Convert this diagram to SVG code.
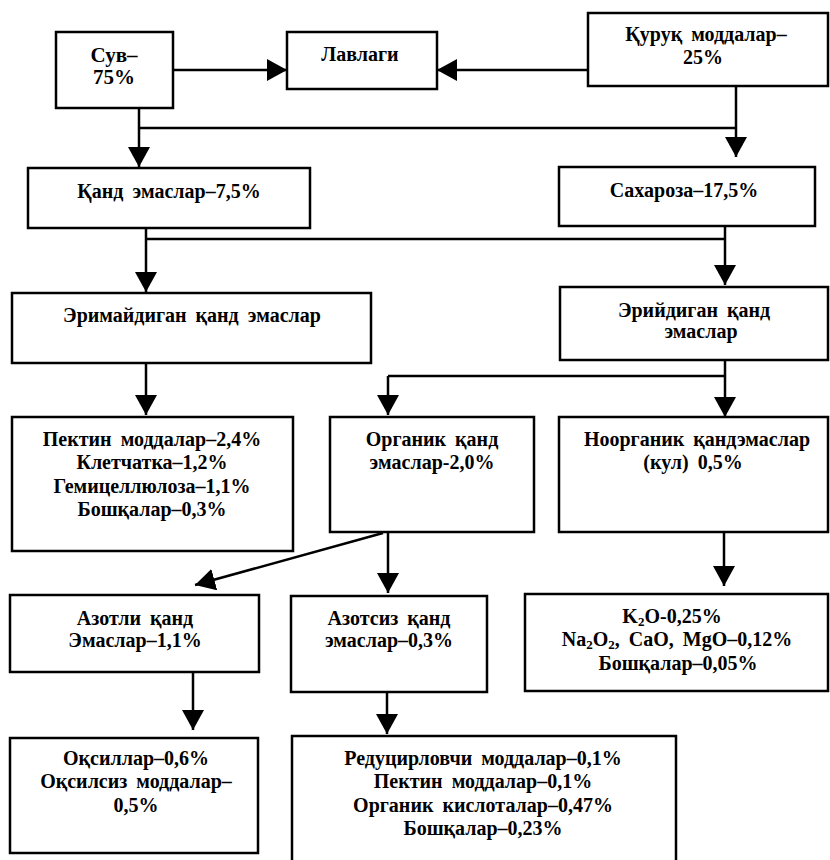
<svg xmlns="http://www.w3.org/2000/svg" width="830" height="860" viewBox="0 0 830 860">
<style>
.box{fill:#fff;stroke:#000;stroke-width:2.5}
.t{font-family:"Liberation Serif","Times New Roman",serif;font-weight:bold;font-size:20px;word-spacing:4px;fill:#000;text-anchor:middle}
.big{font-size:21px}
.c{fill:none;stroke:#000;stroke-width:2.5}
</style>
<defs>
<marker id="ah" markerUnits="userSpaceOnUse" viewBox="0 0 20 22" markerWidth="20" markerHeight="22" refX="20" refY="11" orient="auto">
<path d="M0,0 L20,11 L0,22 Z" fill="#000"/>
</marker>
</defs>
<rect width="830" height="860" fill="#fff"/>
<g id="connectors">
<path class="c" d="M173,70 H287" marker-end="url(#ah)"/>
<path class="c" d="M588,70 H437" marker-end="url(#ah)"/>
<path class="c" d="M139,108 V167" marker-end="url(#ah)"/>
<path class="c" d="M139,128 H736"/>
<path class="c" d="M736,86 V157" marker-end="url(#ah)"/>
<path class="c" d="M146,228 V292" marker-end="url(#ah)"/>
<path class="c" d="M146,239 H725"/>
<path class="c" d="M725,226 V285" marker-end="url(#ah)"/>
<path class="c" d="M146,363 V415" marker-end="url(#ah)"/>
<path class="c" d="M725,360 V417" marker-end="url(#ah)"/>
<path class="c" d="M388,376 H725"/>
<path class="c" d="M388,376 V415" marker-end="url(#ah)"/>
<path class="c" d="M383,533 L195,585" marker-end="url(#ah)"/>
<path class="c" d="M388,533 V593" marker-end="url(#ah)"/>
<path class="c" d="M724,532 V586" marker-end="url(#ah)"/>
<path class="c" d="M193,672 V730" marker-end="url(#ah)"/>
<path class="c" d="M387,692 V734" marker-end="url(#ah)"/>
</g>
<g id="suv">
<rect class="box" x="56" y="32" width="117" height="76"/>
<text class="t big" x="114" y="62">Сув–</text>
<text class="t big" x="114" y="84">75%</text>
</g>
<g id="lavlagi">
<rect class="box" x="287" y="32" width="150" height="57"/>
<text class="t" x="360" y="61">Лавлаги</text>
</g>
<g id="quruq">
<rect class="box" x="588" y="13" width="240" height="73"/>
<text class="t" x="706" y="41">Қуруқ моддалар–</text>
<text class="t" x="703" y="64">25%</text>
</g>
<g id="qand-emas">
<rect class="box" x="28" y="168" width="282" height="60"/>
<text class="t" x="169" y="198">Қанд эмаслар–7,5%</text>
</g>
<g id="saxaroza">
<rect class="box" x="559" y="167" width="256" height="59"/>
<text class="t" x="684" y="197">Сахароза–17,5%</text>
</g>
<g id="erimaydigan">
<rect class="box" x="12" y="293" width="359" height="70"/>
<text class="t" x="192" y="322">Эримайдиган қанд эмаслар</text>
</g>
<g id="eriydigan">
<rect class="box" x="560" y="287" width="268" height="73"/>
<text class="t" x="694" y="317">Эрийдиган қанд</text>
<text class="t" x="701" y="338">эмаслар</text>
</g>
<g id="pektin">
<rect class="box" x="12" y="417" width="281" height="134"/>
<text class="t" x="152" y="446">Пектин моддалар–2,4%</text>
<text class="t" x="152" y="469">Клетчатка–1,2%</text>
<text class="t" x="152" y="493">Гемицеллюлоза–1,1%</text>
<text class="t" x="152" y="516">Бошқалар–0,3%</text>
</g>
<g id="organik">
<rect class="box" x="330" y="417" width="204" height="115"/>
<text class="t" x="432" y="446">Органик қанд</text>
<text class="t" x="432" y="469">эмаслар-2,0%</text>
</g>
<g id="noorganik">
<rect class="box" x="559" y="417" width="269" height="115"/>
<text class="t" x="697" y="446">Ноорганик қандэмаслар</text>
<text class="t" x="693" y="469">(кул) 0,5%</text>
</g>
<g id="azotli">
<rect class="box" x="10" y="595" width="249" height="77"/>
<text class="t" x="135" y="625">Азотли қанд</text>
<text class="t" x="135" y="647">Эмаслар–1,1%</text>
</g>
<g id="azotsiz">
<rect class="box" x="291" y="596" width="196" height="96"/>
<text class="t" x="389" y="625">Азотсиз қанд</text>
<text class="t" x="389" y="647">эмаслар–0,3%</text>
</g>
<g id="mineral">
<rect class="box" x="525" y="594" width="303" height="97"/>
<text class="t" x="672" y="623">K<tspan font-size="13" dy="3">2</tspan><tspan dy="-3">O-0,25%</tspan></text>
<text class="t" x="677" y="646">Na<tspan font-size="13" dy="3">2</tspan><tspan dy="-3">O</tspan><tspan font-size="13" dy="3">2</tspan><tspan dy="-3">, CaO, MgO–0,12%</tspan></text>
<text class="t" x="678" y="670">Бошқалар–0,05%</text>
</g>
<g id="oqsillar">
<rect class="box" x="10" y="738" width="248" height="115"/>
<text class="t" x="136" y="765">Оқсиллар–0,6%</text>
<text class="t" x="136" y="788">Оқсилсиз моддалар–</text>
<text class="t" x="136" y="812">0,5%</text>
</g>
<g id="reduts">
<rect class="box" x="292" y="736" width="384" height="134"/>
<text class="t" x="483" y="765">Редуцирловчи моддалар–0,1%</text>
<text class="t" x="483" y="788">Пектин моддалар–0,1%</text>
<text class="t" x="483" y="812">Органик кислоталар–0,47%</text>
<text class="t" x="483" y="835">Бошқалар–0,23%</text>
</g>
</svg>
